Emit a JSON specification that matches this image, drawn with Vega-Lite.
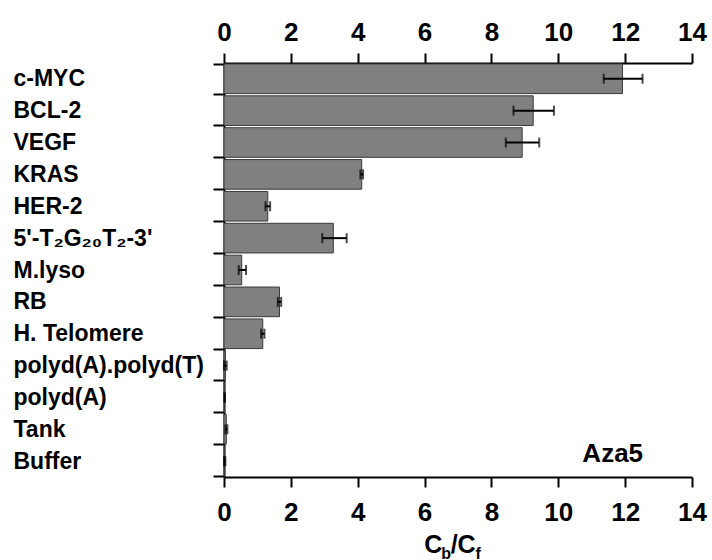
{
  "$schema": "https://vega.github.io/schema/vega-lite/v6.json",
  "autosize": "none",
  "padding": {"left": 224, "top": 63, "right": 20, "bottom": 83},
  "width": 468,
  "height": 414,
  "background": "white",
  "config": {
    "view": {"stroke": null},
    "font": "Liberation Sans",
    "axis": {
      "domainColor": "black",
      "domainWidth": 2,
      "tickColor": "black",
      "tickWidth": 2,
      "labelColor": "black",
      "labelFont": "Liberation Sans",
      "labelFontWeight": "bold",
      "grid": false
    }
  },
  "resolve": {"axis": {"x": "independent"}},
  "layer": [
    {
      "data": {
        "name": "bars",
        "values": [
          {"name": "c-MYC", "value": 11.92, "lo": 11.36, "hi": 12.52},
          {"name": "BCL-2", "value": 9.25, "lo": 8.66, "hi": 9.87},
          {"name": "VEGF", "value": 8.92, "lo": 8.43, "hi": 9.43},
          {"name": "KRAS", "value": 4.12, "lo": 4.08, "hi": 4.16},
          {"name": "HER-2", "value": 1.31, "lo": 1.24, "hi": 1.38},
          {"name": "5'-T₂G₂₀T₂-3'", "value": 3.27, "lo": 2.94, "hi": 3.67},
          {"name": "M.lyso", "value": 0.53, "lo": 0.44, "hi": 0.66},
          {"name": "RB", "value": 1.66, "lo": 1.61, "hi": 1.71},
          {"name": "H. Telomere", "value": 1.16, "lo": 1.11, "hi": 1.21},
          {"name": "polyd(A).polyd(T)", "value": 0.04, "lo": 0.0, "hi": 0.08},
          {"name": "polyd(A)", "value": 0.02, "lo": 0.01, "hi": 0.03},
          {"name": "Tank", "value": 0.07, "lo": 0.04, "hi": 0.1},
          {"name": "Buffer", "value": 0.02, "lo": 0.0, "hi": 0.04}
        ]
      },
      "layer": [
        {
          "mark": {"type": "bar", "fill": "#808080", "stroke": "#3a3a3a", "strokeWidth": 1},
          "encoding": {
            "y": {
              "field": "name", "type": "nominal", "sort": null,
              "scale": {"paddingInner": 0.07, "paddingOuter": 0.03},
              "axis": {
                "title": null, "orient": "left", "tickSize": 11, "tickBand": "extent",
                "labelAlign": "left", "labelPadding": 200, "labelFontSize": 23,
                "labelLimit": 300
              }
            },
            "x": {
              "field": "value", "type": "quantitative",
              "scale": {"domain": [0, 14], "nice": false},
              "axis": {
                "orient": "top", "title": null, "values": [0, 2, 4, 6, 8, 10, 12, 14],
                "tickSize": 10, "labelFontSize": 26, "labelPadding": 8, "labelFlush": false
              }
            }
          }
        },
        {
          "mark": {"type": "rule", "color": "black", "strokeWidth": 2},
          "encoding": {
            "y": {"field": "name", "type": "nominal", "sort": null},
            "x": {
              "field": "lo", "type": "quantitative",
              "axis": {
                "orient": "bottom", "title": null, "values": [0, 2, 4, 6, 8, 10, 12, 14],
                "tickSize": 10, "labelFontSize": 26, "labelPadding": 12, "labelFlush": false
              }
            },
            "x2": {"field": "hi"}
          }
        },
        {
          "mark": {"type": "tick", "color": "black", "thickness": 2, "size": 10},
          "encoding": {
            "y": {"field": "name", "type": "nominal", "sort": null},
            "x": {"field": "lo", "type": "quantitative", "axis": null}
          }
        },
        {
          "mark": {"type": "tick", "color": "black", "thickness": 2, "size": 10},
          "encoding": {
            "y": {"field": "name", "type": "nominal", "sort": null},
            "x": {"field": "hi", "type": "quantitative", "axis": null}
          }
        }
      ]
    },
    {
      "data": {"values": [{"t": "Aza5"}]},
      "mark": {"type": "text", "align": "left", "baseline": "alphabetic", "fontSize": 26, "fontWeight": "bold", "color": "black", "dy": 1},
      "encoding": {
        "text": {"field": "t"},
        "x": {"datum": 10.72, "type": "quantitative", "axis": null},
        "y": {"datum": "Buffer", "type": "nominal"}
      }
    },
    {
      "data": {"values": [
        {"t": "C", "pos": 5.99},
        {"t": "/C", "pos": 6.78}
      ]},
      "mark": {"type": "text", "align": "left", "baseline": "alphabetic", "fontSize": 25, "fontWeight": "bold", "color": "black", "dy": 92},
      "encoding": {
        "text": {"field": "t"},
        "x": {"field": "pos", "type": "quantitative", "axis": null},
        "y": {"datum": "Buffer", "type": "nominal"}
      }
    },
    {
      "data": {"values": [
        {"t": "b", "pos": 6.5},
        {"t": "f", "pos": 7.52}
      ]},
      "mark": {"type": "text", "align": "left", "baseline": "alphabetic", "fontSize": 16, "fontWeight": "bold", "color": "black", "dy": 98},
      "encoding": {
        "text": {"field": "t"},
        "x": {"field": "pos", "type": "quantitative", "axis": null},
        "y": {"datum": "Buffer", "type": "nominal"}
      }
    }
  ]
}
